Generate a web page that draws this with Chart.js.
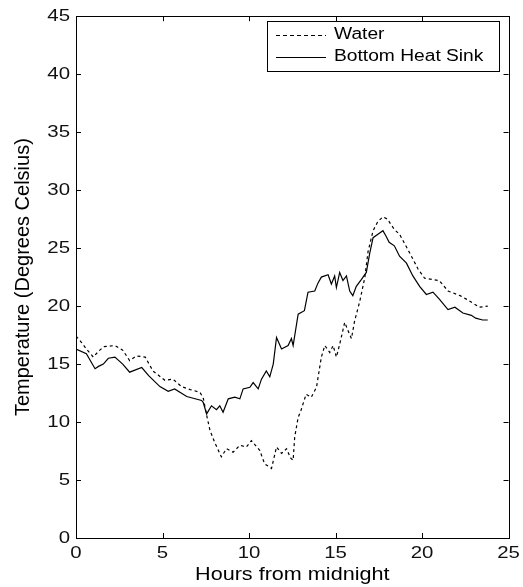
<!DOCTYPE html>
<html><head><meta charset="utf-8">
<script src="https://cdn.jsdelivr.net/npm/chart.js@4/dist/chart.umd.min.js"></script>
<style>html,body{margin:0;padding:0;background:#fff}#wrap{width:523px;height:587px}</style>
</head><body><div id="wrap"><canvas id="c" width="523" height="587"></canvas></div>
<script>
const waterHours = [0,0.3,0.6,1.0,1.3,1.6,2.25,2.7,3.1,3.5,4.0,4.45,5.14,5.6,6.1,6.6,7.16,7.35,7.55,7.74,8.0,8.4,8.7,9.08,9.47,9.85,10.14,10.62,10.9,11.3,11.59,11.88,12.17,12.4,12.55,12.64,12.84,13.0,13.3,13.6,13.9,14.18,14.38,14.67,14.86,15.05,15.24,15.53,15.72,15.92,16.1,16.4,16.69,16.88,17.17,17.45,17.74,18.0,18.4,18.7,19.28,19.77,20.15,20.6,21.0,21.5,22.2,22.56,23.0,23.3,23.8];
const waterTemps = [17.4,16.9,16.3,15.6,16.1,16.5,16.6,16.2,15.3,15.7,15.6,14.4,13.6,13.7,13.06,12.8,12.57,12.1,10.6,9.3,8.3,7.0,7.7,7.4,8.0,7.85,8.4,7.56,6.4,6.0,7.85,7.3,7.7,6.9,6.7,8.7,10.4,11.0,12.4,12.14,13.0,15.6,16.6,16.0,16.6,15.6,16.7,18.6,17.9,17.2,18.7,20.4,22.45,24.7,26.5,27.3,27.7,27.5,26.6,26.2,24.6,23.2,22.4,22.3,22.2,21.3,20.9,20.6,20.2,19.9,20.0];
const sinkHours = [0,0.6,1.1,1.3,1.58,1.87,2.25,2.7,3.1,3.8,4.2,4.85,5.33,5.7,6.4,7.26,7.35,7.55,7.83,8.12,8.31,8.5,8.8,9.18,9.47,9.66,10.05,10.24,10.53,10.72,11.0,11.2,11.4,11.59,11.88,12.26,12.45,12.55,12.84,13.2,13.41,13.8,13.99,14.18,14.57,14.76,14.95,15.05,15.24,15.43,15.63,15.82,16.0,16.2,16.5,16.78,16.97,17.17,17.45,17.74,17.93,18.1,18.4,18.7,19.1,19.47,19.86,20.25,20.63,21.0,21.5,21.9,22.36,22.85,23.1,23.5,23.8];
const sinkTemps = [16.3,15.9,14.6,14.8,15.0,15.5,15.6,15.0,14.3,14.7,14.0,13.06,12.65,12.86,12.2,11.86,11.7,10.7,11.4,11.06,11.4,10.85,12.0,12.14,12.0,12.86,13.0,13.4,12.86,13.7,14.4,13.9,15.0,17.3,16.3,16.6,17.2,16.6,19.3,19.6,21.2,21.3,22.0,22.5,22.7,21.9,22.6,21.6,22.9,22.2,22.6,21.3,20.9,21.7,22.3,22.9,24.5,25.9,26.2,26.5,26.0,25.5,25.2,24.3,23.7,22.6,21.7,21.0,21.2,20.6,19.7,19.9,19.4,19.2,18.96,18.8,18.8];
const seriesLabels = ['Water','Bottom Heat Sink'];
const xTitle = 'Hours from midnight';
const yTitle = 'Temperature (Degrees Celsius)';

const toPts = (xs, ys) => xs.map((x, i) => ({x, y: ys[i]}));
const FONT = "'Liberation Sans', Arial, sans-serif";

const canvas = document.getElementById('c');
const ctx2d = canvas.getContext('2d');
// the reference's horizontal text is slightly wide: stretch unrotated glyphs horizontally around their anchor
const SX = 1.2;
const origFill = ctx2d.fillText.bind(ctx2d);
ctx2d.fillText = function(text, x, y) {
  const m = this.getTransform();
  if (Math.abs(m.b) > 1e-6 || Math.abs(m.c) > 1e-6) { origFill(text, x, y); return; }
  const p = m.transformPoint(new DOMPoint(x, y));
  const n = new DOMMatrix().translate(p.x, p.y).scale(SX, 1).translate(-p.x, -p.y).multiply(m);
  this.save();
  this.setTransform(n);
  origFill(text, x, y);
  this.restore();
};

const boxPlugin = {
  id: 'matlabBox',
  afterDraw(chart) {
    const {ctx, chartArea: a, scales} = chart;
    ctx.save();
    ctx.strokeStyle = '#000';
    ctx.lineWidth = 1;
    ctx.strokeRect(Math.round(a.left)+0.5, Math.round(a.top)+0.5, Math.round(a.right-a.left), Math.round(a.bottom-a.top));
    const tl = 5;
    ctx.beginPath();
    scales.x.ticks.forEach(t => {
      const px = Math.round(scales.x.getPixelForValue(t.value)) + 0.5;
      ctx.moveTo(px, a.bottom); ctx.lineTo(px, a.bottom - tl);
      ctx.moveTo(px, a.top); ctx.lineTo(px, a.top + tl);
    });
    scales.y.ticks.forEach(t => {
      const py = Math.round(scales.y.getPixelForValue(t.value)) + 0.5;
      ctx.moveTo(a.left, py); ctx.lineTo(a.left + tl, py);
      ctx.moveTo(a.right, py); ctx.lineTo(a.right - tl, py);
    });
    ctx.stroke();
    // legend
    const lx = 267, ly = 21, lw = 232, lh = 50;
    ctx.fillStyle = '#fff';
    ctx.fillRect(lx, ly, lw, lh);
    ctx.strokeRect(lx + 0.5, ly + 0.5, lw, lh);
    ctx.font = '16px ' + FONT;
    ctx.textBaseline = 'middle';
    ctx.textAlign = 'left';
    ctx.fillStyle = '#000';
    chart.data.datasets.forEach((ds, i) => {
      const y = ly + 14 + i * 22;
      ctx.beginPath();
      ctx.setLineDash(ds.legendDash || []);
      ctx.lineWidth = 1;
      ctx.moveTo(lx + 9, y + 0.5); ctx.lineTo(lx + 59, y + 0.5);
      ctx.stroke();
      ctx.setLineDash([]);
      ctx.fillText(ds.label, lx + 67, y);
    });
    ctx.restore();
  }
};

new Chart(canvas, {
  type: 'line',
  data: {
    datasets: [
      {label: seriesLabels[0], data: toPts(waterHours, waterTemps), borderColor: '#000', borderWidth: 1.2, borderDash: [3, 3], legendDash: [4, 3], pointRadius: 0, tension: 0, fill: false},
      {label: seriesLabels[1], data: toPts(sinkHours, sinkTemps), borderColor: '#000', borderWidth: 1.2, pointRadius: 0, tension: 0, fill: false}
    ]
  },
  options: {
    responsive: false,
    animation: false,
    layout: {padding: {top: 14, right: 14, left: 0, bottom: 0}},
    plugins: {legend: {display: false}, tooltip: {enabled: false}},
    scales: {
      x: {
        type: 'linear', min: 0, max: 25,
        ticks: {stepSize: 5, color: '#111', font: {family: FONT, size: 17}, padding: 5, maxRotation: 0},
        grid: {display: false, drawTicks: false},
        border: {display: false},
        title: {display: true, text: xTitle, color: '#000', font: {family: FONT, size: 18}, padding: {top: 1, bottom: 1}},
        afterFit(s) { s.height = 49; }
      },
      y: {
        min: 0, max: 45,
        ticks: {stepSize: 5, color: '#111', font: {family: FONT, size: 17}, padding: 6},
        grid: {display: false, drawTicks: false},
        border: {display: false},
        title: {display: true, text: yTitle, color: '#000', font: {family: FONT, size: 20}, padding: {top: 11, bottom: 11}},
        afterFit(s) { s.width = 76; }
      }
    }
  },
  plugins: [boxPlugin]
});
</script></body></html>
